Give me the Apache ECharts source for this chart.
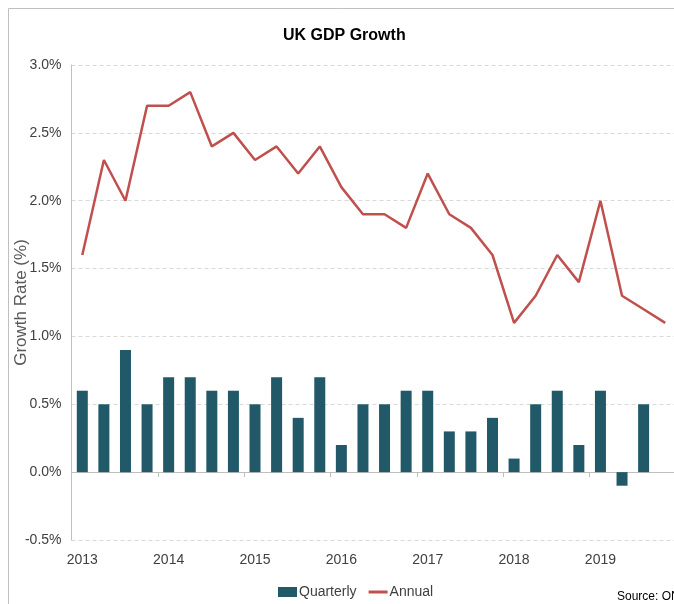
<!DOCTYPE html>
<html>
<head>
<meta charset="utf-8">
<title>UK GDP Growth</title>
<script src="https://cdn.jsdelivr.net/npm/echarts@6/dist/echarts.min.js"></script>
<style>
  html, body { margin: 0; padding: 0; background: #fff; }
  #chart { width: 674px; height: 604px; }
</style>
</head>
<body>
<div id="chart"></div>
<script>
// quarters 2013 Q1 .. 2019 Q4
const quarters = [
  "2013 Q1", "2013 Q2", "2013 Q3", "2013 Q4",
  "2014 Q1", "2014 Q2", "2014 Q3", "2014 Q4",
  "2015 Q1", "2015 Q2", "2015 Q3", "2015 Q4",
  "2016 Q1", "2016 Q2", "2016 Q3", "2016 Q4",
  "2017 Q1", "2017 Q2", "2017 Q3", "2017 Q4",
  "2018 Q1", "2018 Q2", "2018 Q3", "2018 Q4",
  "2019 Q1", "2019 Q2", "2019 Q3", "2019 Q4"
];
const quarterly = [
  0.6, 0.5, 0.9, 0.5, 0.7, 0.7, 0.6, 0.6, 0.5, 0.7, 0.4, 0.7, 0.2, 0.5,
  0.5, 0.6, 0.6, 0.3, 0.3, 0.4, 0.1, 0.5, 0.6, 0.2, 0.6, -0.1, 0.5, null
];
const annual = [
  1.6, 2.3, 2.0, 2.7, 2.7, 2.8, 2.4, 2.5, 2.3, 2.4, 2.2, 2.4, 2.1, 1.9,
  1.9, 1.8, 2.2, 1.9, 1.8, 1.6, 1.1, 1.3, 1.6, 1.4, 2.0, 1.3, 1.2, 1.1
];

const font = "'Liberation Sans', Arial, sans-serif";

let chart = echarts.init(document.getElementById("chart"), null, { renderer: "canvas" });

let option = {
  animation: false,
  backgroundColor: "#fff",
  textStyle: { fontFamily: font },
  title: {
    text: "UK GDP Growth",
    left: 278,
    top: 23,
    textStyle: { fontFamily: font, fontSize: 16, fontWeight: "bold", color: "#000" }
  },
  graphic: [
    {
      type: "rect",
      shape: { x: 8.5, y: 8.5, width: 700, height: 700 },
      style: { fill: null, stroke: "#bfbfbf", lineWidth: 1 },
      silent: true
    },
    {
      type: "text",
      left: 617,
      top: 591,
      style: { text: "Source: ONS", font: "12px " + font, fill: "#000" }
    }
  ],
  legend: {
    left: 278,
    top: 585,
    padding: 0,
    itemWidth: 19,
    itemHeight: 10,
    itemGap: 12,
    textStyle: { fontFamily: font, fontSize: 14, color: "#404040", padding: [0, 0, 0, -3] },
    data: [
      { name: "Quarterly", icon: "rect" },
      { name: "Annual", icon: "path://M0,0 H19 V3 H0 Z" }
    ]
  },
  grid: {
    left: 71.5,
    right: -2,
    top: 65,
    bottom: 64,
    outerBoundsMode: "none",
    containLabel: false
  },
  xAxis: [
    {
      type: "category",
      data: quarters,
      boundaryGap: true,
      position: "bottom",
      axisLine: { show: false, onZero: false },
      axisTick: { show: false },
      axisLabel: {
        interval: 3,
        margin: 13,
        fontFamily: font,
        fontSize: 14,
        color: "#404040",
        formatter: function (v) { return v.slice(0, 4); }
      },
      splitLine: { show: false }
    },
    {
      type: "category",
      data: quarters,
      boundaryGap: true,
      position: "top",
      axisLine: { show: true, onZero: true, lineStyle: { color: "#bfbfbf", width: 1 } },
      axisTick: { show: true, interval: 3, inside: true, length: 5, lineStyle: { color: "#bfbfbf" } },
      axisLabel: { show: false },
      splitLine: { show: false }
    }
  ],
  yAxis: {
    type: "value",
    min: -0.5,
    max: 3.0,
    interval: 0.5,
    name: "Growth Rate (%)",
    nameLocation: "middle",
    nameGap: 42,
    nameMoveOverlap: false,
    nameTextStyle: { fontFamily: font, fontSize: 17, color: "#595959" },
    axisLine: { show: true, lineStyle: { color: "#bfbfbf", width: 1 } },
    axisTick: { show: false },
    axisLabel: {
      margin: 10,
      fontFamily: font,
      fontSize: 14,
      color: "#404040",
      formatter: function (v) { return v.toFixed(1) + "%"; }
    },
    splitLine: { show: true, lineStyle: { color: "#d9d9d9", type: [4, 3] } }
  },
  series: [
    {
      name: "Quarterly",
      type: "bar",
      xAxisIndex: 0,
      data: quarterly,
      barWidth: 11,
      itemStyle: { color: "#215968" }
    },
    {
      name: "Annual",
      type: "line",
      xAxisIndex: 0,
      data: annual,
      symbol: "none",
      lineStyle: { color: "#c0504d", width: 2.5 },
      itemStyle: { color: "#c0504d" }
    }
  ]
};

chart.setOption(option);
</script>
</body>
</html>
